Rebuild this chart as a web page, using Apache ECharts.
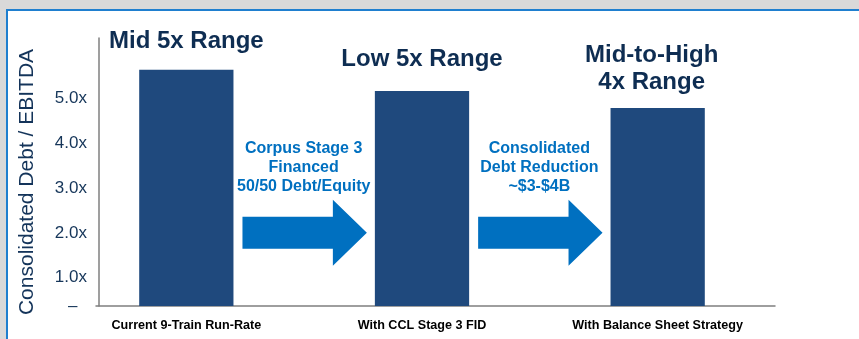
<!DOCTYPE html>
<html>
<head>
<meta charset="utf-8">
<script src="https://cdn.jsdelivr.net/npm/echarts@6/dist/echarts.min.js"></script>
<style>
  html, body { margin: 0; padding: 0; background: #d9d9d9; }
  #panel {
    position: absolute; left: 6px; top: 9px; right: 0; bottom: 0;
    background: #ffffff;
    border-top: 2px solid #1f7fcf; border-left: 2px solid #1f7fcf;
  }
  #chart { position: absolute; left: 0; top: 0; width: 859px; height: 339px; }
</style>
</head>
<body>
<div id="panel"></div>
<div id="chart"></div>
<script>
// Leverage path: consolidated debt / EBITDA per scenario
const categories = ['Current 9-Train Run-Rate', 'With CCL Stage 3 FID', 'With Balance Sheet Strategy'];
const leverage = [5.63, 5.16, 4.78];
const rangeLabels = ['Mid 5x Range', 'Low 5x Range', 'Mid-to-High\n4x Range'];
const tickValues = [1, 2, 3, 4, 5];

// Transition arrows between scenarios (start category, level on the leverage scale, note)
const arrowFrom = [0, 1];
const arrowLevel = [2.0, 2.0];
const arrowNotes = ['Corpus Stage 3\nFinanced\n50/50 Debt/Equity', 'Consolidated\nDebt Reduction\n~$3-$4B'];

const yMin = 0.37, yMax = 6.34;

const FONT = '"Liberation Sans", Arial, sans-serif';
const NAVY = '#0e2d52';
const BAR = '#1f497d';
const BLUE = '#0070c0';

const titleDistance = [14.5, 18.5, 12];
const titleOffset = [[0, 0], [0, 0], [-6, 0]];

const chart = echarts.init(document.getElementById('chart'), null, { renderer: 'canvas' });

chart.setOption({
  backgroundColor: 'transparent',
  animation: false,
  textStyle: { fontFamily: FONT },
  grid: [
    { left: 68.5, right: 83.5, top: 38, bottom: 33 },
    { left: 96, right: 84, top: 38, bottom: 33 }
  ],
  xAxis: [
    {
      type: 'category', gridIndex: 0, data: categories,
      axisLine: { show: false }, axisTick: { show: false },
      axisLabel: { color: '#000', fontWeight: 'bold', fontSize: 12.6, margin: 13, fontFamily: FONT }
    },
    {
      type: 'value', gridIndex: 1, min: 0, max: 1,
      axisLine: { show: true, onZero: false, lineStyle: { color: '#7f7f7f', width: 1.5 } },
      axisTick: { show: false }, axisLabel: { show: false }, splitLine: { show: false }
    }
  ],
  yAxis: [
    {
      type: 'value', gridIndex: 0, min: yMin, max: yMax, show: false
    },
    {
      type: 'value', gridIndex: 1, min: yMin, max: yMax, offset: -3,
      axisLine: { show: true, lineStyle: { color: '#7f7f7f', width: 1.5 } },
      axisTick: { show: false }, splitLine: { show: false },
      axisLabel: {
        customValues: [yMin].concat(tickValues),
        color: '#153559', fontSize: 17, margin: 12, fontFamily: FONT,
        formatter: v => (v < 0.5 ? '\u2013  ' : v.toFixed(1) + 'x')
      }
    }
  ],
  series: [
    {
      type: 'bar', xAxisIndex: 0, yAxisIndex: 0, barWidth: '40%',
      itemStyle: { color: BAR },
      data: leverage.map((v, i) => ({
        value: v,
        label: { distance: titleDistance[i], offset: titleOffset[i] }
      })),
      label: {
        show: true, position: 'top',
        formatter: p => rangeLabels[p.dataIndex],
        color: NAVY, fontSize: 24, fontWeight: 'bold', lineHeight: 27, fontFamily: FONT
      }
    },
    {
      type: 'custom', xAxisIndex: 0, yAxisIndex: 0,
      encode: { x: 0, y: 1 },
      data: arrowFrom.map((f, k) => [f, arrowLevel[k]]),
      renderItem: (params, api) => {
        const i = api.value(0), lvl = api.value(1);
        const a = api.coord([i, lvl]);
        const b = api.coord([i + 1, lvl]);
        const band = api.size([1, 0])[0];
        const x0 = a[0] + band * 0.2 + 9;
        const x1 = b[0] - band * 0.2 - 8;
        const y = a[1];
        const head = 34, shaft = 16, wing = 33;
        const pts = [
          [x0, y - shaft], [x1 - head, y - shaft], [x1 - head, y - wing],
          [x1, y], [x1 - head, y + wing], [x1 - head, y + shaft], [x0, y + shaft]
        ];
        return {
          type: 'group',
          children: [
            { type: 'polygon', shape: { points: pts }, style: { fill: BLUE } },
            {
              type: 'text', x: (x0 + x1) / 2 - 1, y: y - 65,
              style: {
                text: arrowNotes[params.dataIndex],
                align: 'center', verticalAlign: 'middle',
                fill: BLUE, fontSize: 16, fontWeight: 'bold', fontFamily: FONT, lineHeight: 19
              }
            }
          ]
        };
      }
    }
  ],
  graphic: [
    {
      type: 'text', x: 27, y: 182, rotation: Math.PI / 2,
      style: {
        text: 'Consolidated Debt / EBITDA',
        align: 'center', verticalAlign: 'middle',
        fill: '#14345a', fontSize: 21, fontFamily: FONT
      }
    }
  ]
});
</script>
</body>
</html>
